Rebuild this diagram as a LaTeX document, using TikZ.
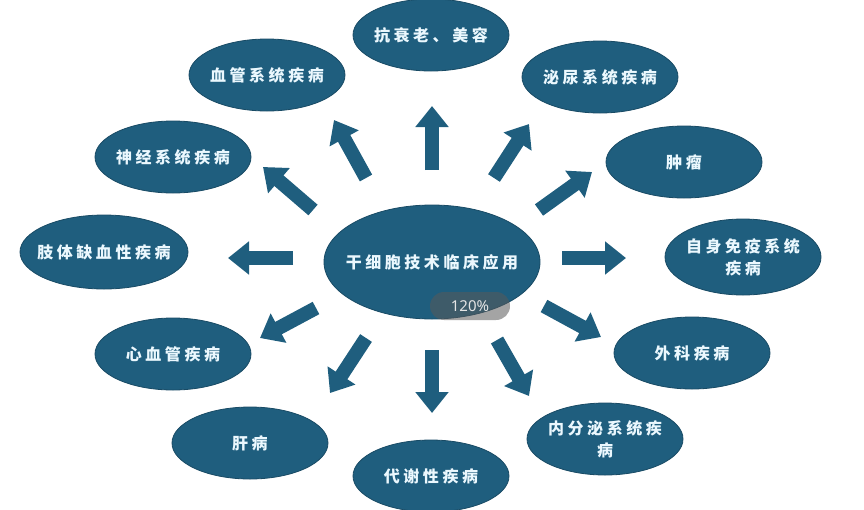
\documentclass[tikz,border=0pt]{standalone}
\usepackage{fontspec}
\newfontfamily\cjk[LetterSpace=22]{Noto Sans CJK SC}
\newfontfamily\badgefont{Noto Sans}
\usetikzlibrary{arrows.meta,shapes.geometric}
\definecolor{tealblue}{HTML}{1F5E7E}
\tikzset{
	bubble/.style={ellipse, fill=tealblue, draw=tealblue!80!black, line width=0.8pt,
		minimum width=156pt, minimum height=72pt, inner sep=0pt,
		label={[bubbletext]center:#1}},
	bubbletext/.style={text=white!92!cyan, font=\cjk\bfseries\fontsize{16}{22}\selectfont, align=center},
	fat/.style={draw=tealblue, line width=14pt, -{Triangle[length=21pt,width=32pt]}},
	badge/.style={rounded corners=14pt, fill=gray!70!black, fill opacity=0.55, text opacity=1,
		text=white!90!black, font=\badgefont\fontsize{15}{15}\selectfont,
		minimum width=80pt, minimum height=28pt, inner sep=0pt}
}
\begin{document}
\begin{tikzpicture}[x=1pt,y=-1pt]
	\useasboundingbox (0,0) rectangle (864,509);
	% middle
	\node[bubble={干细胞技术临床应用}, minimum width=216pt, minimum height=114pt] (core) at (432,262) {};
	% round the middle
	\node[bubble={抗衰老、美容}] (aging) at (431,35) {};
	\node[bubble={泌尿系统疾病}] (urin) at (600,77) {};
	\node[bubble={肿瘤}] (tumor) at (684,162) {};
	\node[bubble={自身免疫系统\\疾病}, minimum height=76pt] (immune) at (743,257) {};
	\node[bubble={外科疾病}] (surg) at (692,353) {};
	\node[bubble={内分泌系统疾\\病}] (endo) at (605,439) {};
	\node[bubble={代谢性疾病}] (metab) at (431,476) {};
	\node[bubble={肝病}] (liver) at (250,443) {};
	\node[bubble={心血管疾病}] (cardio) at (173,354) {};
	\node[bubble={肢体缺血性疾病}, minimum width=168pt, minimum height=74pt] (limb) at (104,252) {};
	\node[bubble={神经系统疾病}] (nerve) at (173,157) {};
	\node[bubble={血管系统疾病}] (vessel) at (267,75) {};
	% arrows
	\foreach \n/\tx/\ty/\hx/\hy in {aging/432/170/432/106, vessel/366/178/334/120,
		nerve/313/210/263/167, limb/293/258/228/258, cardio/316/308/260/338,
		liver/366/338/330/393, metab/432/350/432/413, endo/497/340/529/396,
		surg/544/306/601/337, immune/562/258/626/258, tumor/539/210/592/172,
		urin/494/178/529/124}{
		\coordinate (t-\n) at (\tx,\ty);
		\coordinate (h-\n) at (\hx,\hy);
		\draw[fat] (t-\n) -- (h-\n);
	}
	\node[badge] (zoomtag) at (470,306) {120\%};
\end{tikzpicture}
\end{document}
